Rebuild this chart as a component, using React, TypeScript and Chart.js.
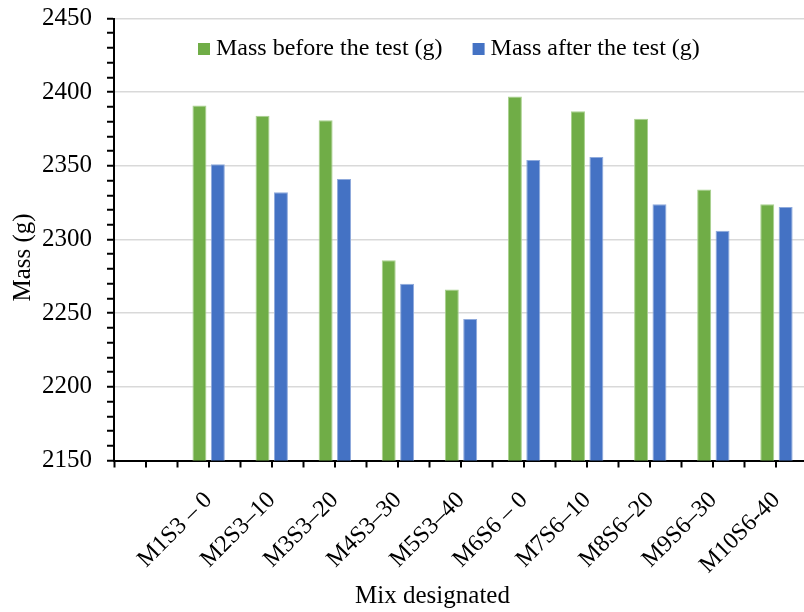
import React, { useEffect, useRef } from "react";
import { Chart, registerables } from "chart.js";

Chart.register(...registerables);

// Mix designations (the leading blank slot is left empty on the axis)
const categories = [
  "",
  "M1S3 – 0",
  "M2S3–10",
  "M3S3–20",
  "M4S3–30",
  "M5S3–40",
  "M6S6 – 0",
  "M7S6–10",
  "M8S6–20",
  "M9S6–30",
  "M10S6-40",
];

const massBefore = [2391, 2384, 2381, 2286, 2266, 2397, 2387, 2382, 2334, 2324];
const massAfter = [2351, 2332, 2341, 2270, 2246, 2354, 2356, 2324, 2306, 2322];

const seriesNames = ["Mass before the test (g)", "Mass after the test (g)"];
const seriesColors = ["#70AD47", "#4472C4"];
const seriesEdges = ["#A9D18E", "#8FAADC"];

const yMin = 2150;
const yMax = 2450;
const yMinorStep = 10;
const yMajorStep = 50;

const xTitle = "Mix designated";
const yTitle = "Mass (g)";

const FONT = "'Liberation Serif', 'Times New Roman', serif";

const decorations = {
  id: "decorations",
  afterDraw(chart: any) {
    const { ctx, chartArea, scales } = chart;
    const x = scales.x;
    ctx.save();

    // tick marks at category centres (boundary ticks come from the grid)
    ctx.strokeStyle = "#000";
    ctx.lineWidth = 2;
    ctx.beginPath();
    for (let i = 0; i < categories.length; i++) {
      const px = Math.round(x.getPixelForValue(i));
      ctx.moveTo(px, chartArea.bottom);
      ctx.lineTo(px, chartArea.bottom + 7);
    }
    ctx.stroke();

    // legend
    ctx.font = `24px ${FONT}`;
    ctx.textBaseline = "middle";
    ctx.textAlign = "left";
    let lx = chartArea.left + 84;
    const ly = chartArea.top + 30.5;
    seriesNames.forEach((name, i) => {
      ctx.fillStyle = seriesColors[i];
      ctx.fillRect(lx, ly - 6, 12, 12);
      ctx.fillStyle = "#000";
      ctx.fillText(name, lx + 18, ly);
      lx += 18 + ctx.measureText(name).width + 30;
    });

    // axis titles
    ctx.font = `25px ${FONT}`;
    ctx.fillStyle = "#000";
    ctx.textAlign = "center";
    ctx.textBaseline = "alphabetic";
    ctx.fillText(xTitle, 432.5, 603);

    ctx.save();
    ctx.translate(30, (chartArea.top + chartArea.bottom) / 2 + 18);
    ctx.rotate(-Math.PI / 2);
    ctx.textBaseline = "alphabetic";
    ctx.fillText(yTitle, 0, 0);
    ctx.restore();

    ctx.restore();
  },
};

export default function App() {
  const canvasRef = useRef<HTMLCanvasElement | null>(null);

  useEffect(() => {
    if (!canvasRef.current) return;
    Chart.defaults.font.family = FONT;
    Chart.defaults.color = "#000";

    const chart = new Chart(canvasRef.current, {
      type: "bar",
      data: {
        labels: categories,
        datasets: [
          {
            label: seriesNames[0],
            data: [null, ...massBefore],
            backgroundColor: seriesColors[0],
            borderColor: seriesEdges[0],
            borderWidth: 1,
            categoryPercentage: 0.583,
            barPercentage: 0.76,
          },
          {
            label: seriesNames[1],
            data: [null, ...massAfter],
            backgroundColor: seriesColors[1],
            borderColor: seriesEdges[1],
            borderWidth: 1,
            categoryPercentage: 0.583,
            barPercentage: 0.76,
          },
        ],
      },
      options: {
        responsive: false,
        animation: false,
        devicePixelRatio: 1,
        layout: { padding: { top: 18.5, right: 4, bottom: 0, left: 0 } },
        plugins: {
          legend: { display: false },
          tooltip: { enabled: false },
          title: { display: false },
        },
        scales: {
          x: {
            offset: true,
            grid: {
              offset: true,
              drawOnChartArea: false,
              drawTicks: true,
              tickLength: 7,
              tickColor: "#000",
              tickWidth: 2,
            },
            border: { color: "#000", width: 2 },
            ticks: {
              autoSkip: false,
              maxRotation: 45,
              minRotation: 45,
              padding: 19,
              color: "#000",
              font: { size: 24, family: FONT },
            },
            afterFit(scale: any) {
              scale.height = 151.5;
              scale.paddingLeft = 0;
              scale.paddingRight = 0;
            },
          },
          y: {
            min: yMin,
            max: yMax,
            grid: {
              color: (c: any) =>
                c.tick && c.tick.value % yMajorStep === 0 ? "#D9D9D9" : "rgba(0,0,0,0)",
              lineWidth: 1.5,
              tickLength: 7,
              tickColor: "#000",
              tickWidth: 2,
            },
            border: { color: "#000", width: 2 },
            ticks: {
              stepSize: yMinorStep,
              autoSkip: false,
              padding: 15,
              color: "#000",
              font: { size: 25, family: FONT },
              callback: (v: any) => (Number(v) % yMajorStep === 0 ? String(v) : ""),
            },
            afterFit(scale: any) {
              scale.width = 114;
              scale.paddingTop = 0;
              scale.paddingBottom = 0;
            },
          },
        },
      },
      plugins: [decorations],
    });

    return () => chart.destroy();
  }, []);

  return (
    <div
      style={{
        position: "fixed",
        left: 0,
        top: 0,
        width: 804,
        height: 612,
        overflow: "hidden",
        background: "#fff",
      }}
    >
      <canvas
        ref={canvasRef}
        width={812}
        height={612}
        style={{ width: 812, height: 612, display: "block" }}
      />
    </div>
  );
}
